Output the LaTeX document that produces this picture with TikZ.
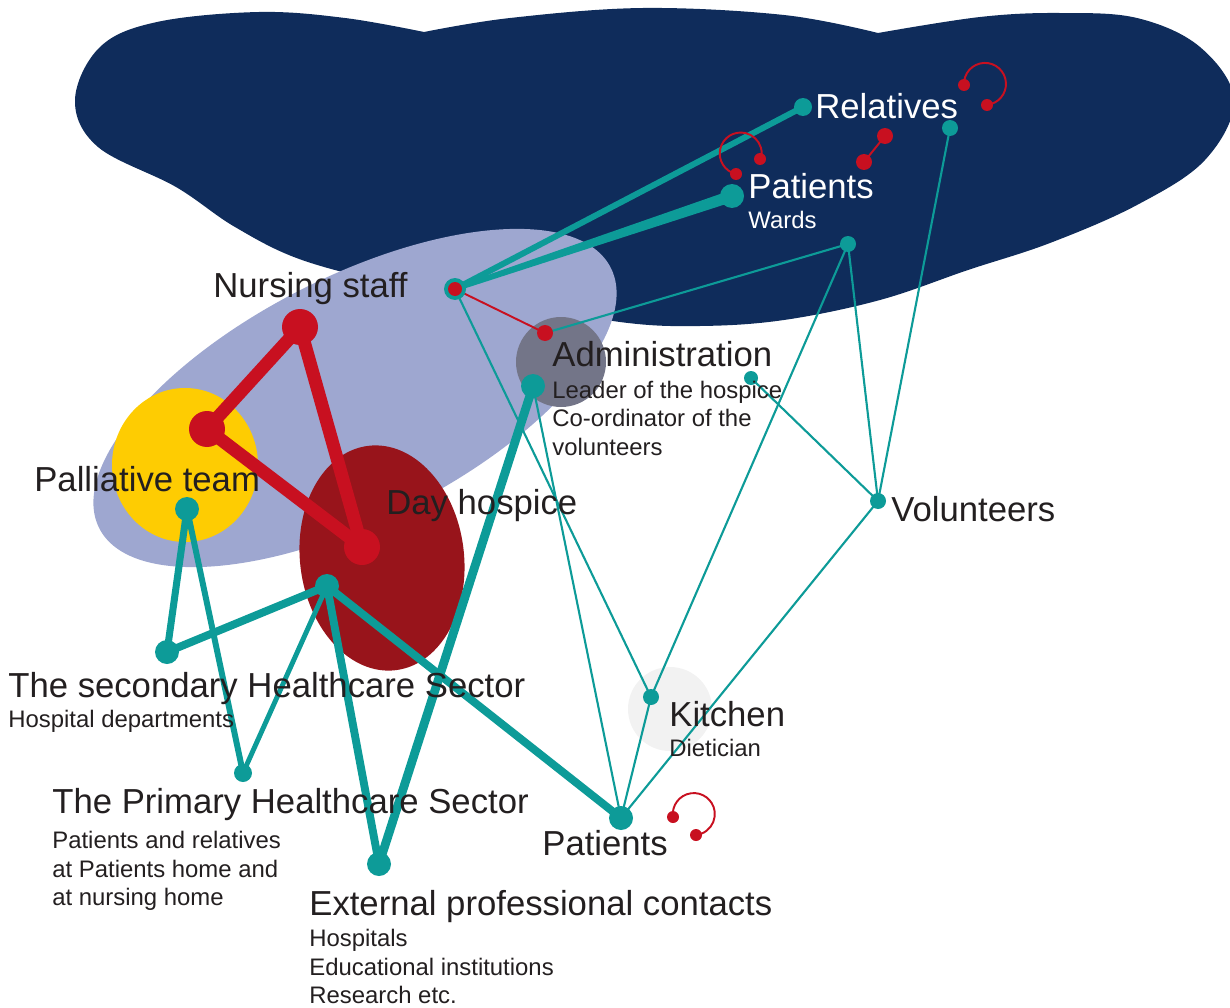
\documentclass[tikz,border=0pt]{standalone}
\usepackage{fontspec}
\setmainfont{Liberation Sans}
\usetikzlibrary{calc}
\definecolor{navy}{RGB}{15,44,91}
\definecolor{lav}{RGB}{158,167,208}
\definecolor{yel}{RGB}{254,204,2}
\definecolor{dred}{RGB}{152,20,27}
\definecolor{rred}{RGB}{200,16,32}
\definecolor{teal1}{RGB}{13,155,152}
\definecolor{gry}{RGB}{115,117,136}
\definecolor{lgry}{RGB}{242,242,242}
\definecolor{ink}{RGB}{35,31,32}
\pgfdeclarelayer{shapes}
\pgfdeclarelayer{edges}
\pgfsetlayers{shapes,edges,main}
\tikzset{
  tdot/.style={circle, fill=teal1, inner sep=0pt, minimum size=#1},
  rdot/.style={circle, fill=rred, inner sep=0pt, minimum size=#1},
  big/.style={anchor=base west, inner sep=0pt, text=ink, font=\fontsize{19.75}{23}\selectfont},
  small/.style={anchor=base west, inner sep=0pt, text=ink, font=\fontsize{13.6}{16}\selectfont},
  tthin/.style={draw=teal1, line width=1.2pt},
  tthick/.style={draw=teal1, line width=#1},
  rthick/.style={draw=rred, line width=7.4pt, line cap=round},
  rthin/.style={draw=rred, line width=1.1pt},
}
\begin{document}
\begin{tikzpicture}[x=0.02cm,y=-0.02cm]
\useasboundingbox (0,0) rectangle (1230,1007);
\clip (0,0) rectangle (1230,1007);

% ---------- background shapes ----------
\begin{pgfonlayer}{shapes}
\fill[navy] plot[smooth, tension=0.6] coordinates {(424,32) (510,18) (643,8) (784,15) (878,33)}
  -- plot[smooth, tension=0.6] coordinates {(878,33) (980,17) (1059,13) (1137,18) (1200,47) (1234,100) (1205,160) (1137,205) (1050,243) (968,270) (880,300) (784,320) (700,326) (620,322) (500,300) (400,285) (302,260) (235,227) (176,187) (98,147) (75,100) (100,47) (157,22) (259,12) (345,18) (424,32)} -- cycle;
\fill[lav, rotate around={27:(355,398)}] (355,398) ellipse [x radius=287, y radius=121];
\fill[yel] (185,465) ellipse [x radius=73, y radius=77];
\fill[dred, rotate around={7:(382,558)}] (382,558) ellipse [x radius=82, y radius=113];
\fill[gry] (561,362) circle [radius=45];
\fill[lgry] (670,709) circle [radius=42];
\end{pgfonlayer}

% ---------- dots ----------
\node[tdot=0.36cm] (rel) at (803,107) {};
\node[tdot=0.48cm] (patw) at (732,196) {};
\node[tdot=0.32cm] (w1) at (848,244) {};
\node[tdot=0.32cm] (w2) at (950,128) {};
\node[tdot=0.44cm] (nurs) at (455,289) {};
\node[rdot=0.28cm] (nursr) at (455,289) {};
\node[rdot=0.32cm] (admr) at (545,333) {};
\node[tdot=0.48cm] (adm) at (533,386) {};
\node[tdot=0.28cm] (v1) at (751,378) {};
\node[tdot=0.32cm] (vol) at (878,501) {};
\node[tdot=0.32cm] (kit) at (651,697) {};
\node[tdot=0.48cm] (patb) at (621,818) {};
\node[tdot=0.48cm] (ext) at (379,864) {};
\node[tdot=0.36cm] (prim) at (243,773) {};
\node[tdot=0.48cm] (sec) at (167,652) {};
\node[tdot=0.48cm] (pal) at (187,509) {};
\node[tdot=0.48cm] (day) at (327,586) {};
\node[rdot=0.72cm] (rn) at (300,327) {};
\node[rdot=0.72cm] (rp) at (207,429) {};
\node[rdot=0.72cm] (rd) at (362,547) {};
% red loops and pair
\node[rdot=0.24cm] (l1a) at (964,85) {};
\node[rdot=0.24cm] (l1b) at (987,105) {};
\node[rdot=0.24cm] (l2a) at (736,174) {};
\node[rdot=0.24cm] (l2b) at (760,159) {};
\node[rdot=0.24cm] (l3a) at (673,817) {};
\node[rdot=0.24cm] (l3b) at (696,835) {};
\node[rdot=0.32cm] (p1) at (885,136) {};
\node[rdot=0.32cm] (p2) at (864,162) {};

% ---------- connectors ----------
\begin{pgfonlayer}{edges}
\draw[tthick=3.4pt] (nurs.center) -- (rel.center);
\fill[teal1] ($(nurs.center)!1.4pt!90:(patw.center)$) -- ($(patw.center)!3.3pt!-90:(nurs.center)$)
  -- ($(patw.center)!3.3pt!90:(nurs.center)$) -- ($(nurs.center)!1.4pt!-90:(patw.center)$) -- cycle;
\draw[tthick=5pt] (adm.center) -- (ext.center);
\draw[tthick=4.5pt] (day.center) -- (sec.center);
\draw[tthick=4pt] (pal.center) -- (sec.center);
\draw[tthick=3.4pt] (pal.center) -- (prim.center);
\draw[tthick=2.8pt] (day.center) -- (prim.center);
\draw[tthick=4.5pt] (day.center) -- (ext.center);
\draw[tthick=4.5pt] (day.center) -- (patb.center);
\draw[tthin] (nurs.center) -- (kit.center);
\draw[tthin] (adm.center) -- (patb.center);
\draw[tthin] (admr.center) -- (w1.center);
\draw[tthin] (w1.center) -- (kit.center);
\draw[tthin] (w1.center) -- (vol.center);
\draw[tthin] (w2.center) -- (vol.center);
\draw[tthin] (v1.center) -- (vol.center);
\draw[tthin] (vol.center) -- (patb.center);
\draw[tthin] (kit.center) -- (patb.center);
\draw[rthin] (nursr.center) -- (admr.center);
\draw[rthick] (rn.center) -- (rp.center);
\draw[rthick] (rn.center) -- (rd.center);
\draw[rthick] (rp.center) -- (rd.center);
\draw[rthin] (p1.center) -- (p2.center);
\draw[rthin] (l1a.center) arc[start angle=177, end angle=444, radius=21];
\draw[rthin] (l2a.center) arc[start angle=103, end angle=378, radius=21];
\draw[rthin] (l3a.center) arc[start angle=172, end angle=445, radius=21];
\end{pgfonlayer}

% ---------- texts ----------
\node[big, text=white] (tRel) at (815,118) {Relatives};
\node[big, text=white] (tPatW) at (748,198) {Patients};
\node[small, text=white] (tWards) at (748,228) {Wards};
\node[big] (tNurs) at (213,297) {Nursing staff};
\node[big] (tAdm) at (552,366) {Administration};
\node[small] (tAdm1) at (552,398) {Leader of the hospice};
\node[small] (tAdm2) at (552,426) {Co-ordinator of the};
\node[small] (tAdm3) at (552,455) {volunteers};
\node[big] (tPal) at (34,491) {Palliative team};
\node[big] (tDay) at (386,514) {Day hospice};
\node[big] (tVol) at (891,521) {Volunteers};
\node[big] (tSec) at (8,697) {The secondary Healthcare Sector};
\node[small] (tSec1) at (8,727) {Hospital departments};
\node[big] (tKit) at (669,726) {Kitchen};
\node[small] (tKit1) at (669,756) {Dietician};
\node[big] (tPrim) at (52,813) {The Primary Healthcare Sector};
\node[small] (tPrim1) at (52,848) {Patients and relatives};
\node[small] (tPrim2) at (52,877) {at Patients home and};
\node[small] (tPrim3) at (52,905) {at nursing home};
\node[big] (tPatB) at (542,855) {Patients};
\node[big] (tExt) at (309,915) {External professional contacts};
\node[small] (tExt1) at (309,946) {Hospitals};
\node[small] (tExt2) at (309,975) {Educational institutions};
\node[small] (tExt3) at (309,1003) {Research etc.};
\end{tikzpicture}
\end{document}
